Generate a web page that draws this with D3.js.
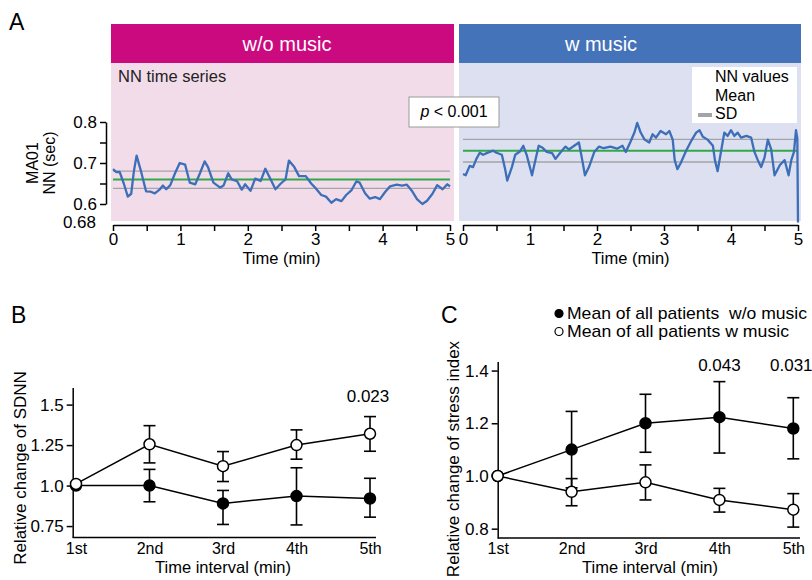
<!DOCTYPE html>
<html>
<head>
<meta charset="utf-8">
<script src="https://cdn.jsdelivr.net/npm/d3@7"></script>
<style>
body { margin: 0; background: #fff; }
svg { font-family: "Liberation Sans", Arial, sans-serif; }
</style>
</head>
<body>
<svg id="chart" width="812" height="580"></svg>
<script>
// panel A: NN time series [minute, seconds]
var nnWithoutMusic = [
  [0,0.685],[0.05,0.678],[0.1,0.678],[0.16,0.65],[0.22,0.618],[0.27,0.625],[0.31,0.68],[0.35,0.718],
  [0.42,0.677],[0.49,0.631],[0.56,0.63],[0.62,0.626],[0.69,0.635],[0.74,0.645],[0.79,0.636],[0.85,0.646],
  [0.92,0.675],[0.99,0.70],[1.07,0.696],[1.14,0.652],[1.22,0.648],[1.29,0.675],[1.36,0.704],[1.41,0.69],
  [1.49,0.652],[1.59,0.64],[1.64,0.645],[1.71,0.675],[1.76,0.66],[1.84,0.656],[1.91,0.635],[1.96,0.648],
  [2.04,0.632],[2.11,0.662],[2.19,0.656],[2.26,0.686],[2.34,0.66],[2.41,0.636],[2.49,0.65],[2.56,0.66],
  [2.61,0.706],[2.69,0.69],[2.76,0.668],[2.86,0.668],[2.94,0.65],[3.01,0.638],[3.09,0.622],[3.16,0.618],
  [3.24,0.603],[3.31,0.612],[3.39,0.607],[3.46,0.622],[3.54,0.634],[3.61,0.655],[3.66,0.652],[3.74,0.626],
  [3.81,0.613],[3.89,0.617],[3.96,0.612],[4.04,0.63],[4.11,0.643],[4.21,0.647],[4.29,0.645],[4.36,0.647],
  [4.44,0.631],[4.51,0.612],[4.59,0.60],[4.66,0.608],[4.74,0.625],[4.81,0.646],[4.89,0.636],[4.96,0.648],
  [5,0.643]
];
var nnWithMusic = [
  [0,0.673],[0.04,0.670],[0.1,0.693],[0.15,0.69],[0.2,0.71],[0.25,0.725],[0.3,0.72],[0.38,0.726],
  [0.45,0.73],[0.5,0.725],[0.58,0.72],[0.63,0.684],[0.66,0.657],[0.73,0.69],[0.78,0.72],[0.85,0.728],
  [0.9,0.742],[0.95,0.72],[1.03,0.67],[1.08,0.707],[1.13,0.742],[1.18,0.738],[1.25,0.727],[1.33,0.724],
  [1.38,0.71],[1.46,0.727],[1.53,0.74],[1.58,0.733],[1.66,0.742],[1.73,0.75],[1.78,0.707],[1.82,0.67],
  [1.88,0.69],[1.96,0.727],[2.03,0.74],[2.1,0.736],[2.2,0.74],[2.3,0.735],[2.38,0.742],[2.43,0.727],
  [2.5,0.752],[2.56,0.775],[2.6,0.798],[2.65,0.775],[2.71,0.757],[2.78,0.75],[2.83,0.77],[2.88,0.762],
  [2.95,0.778],[3.03,0.77],[3.08,0.778],[3.13,0.757],[3.16,0.707],[3.2,0.685],[3.25,0.70],[3.33,0.73],
  [3.4,0.752],[3.48,0.774],[3.53,0.78],[3.58,0.764],[3.65,0.757],[3.73,0.742],[3.76,0.707],[3.8,0.68],
  [3.85,0.727],[3.9,0.774],[3.95,0.766],[4.0,0.78],[4.05,0.766],[4.1,0.774],[4.15,0.762],[4.23,0.766],
  [4.3,0.762],[4.35,0.727],[4.4,0.707],[4.45,0.69],[4.5,0.713],[4.55,0.757],[4.6,0.733],[4.65,0.67],
  [4.73,0.695],[4.8,0.707],[4.86,0.67],[4.9,0.707],[4.94,0.727],[4.97,0.78],[4.99,0.76],[5,0.555]
];
var meanWithout = 0.66, sdWithout = [0.638, 0.68];
var meanWith = 0.73, sdWith = [0.7025, 0.7575];
var minuteTicks = [0, 0.5, 1, 1.5, 2, 2.5, 3, 3.5, 4, 4.5, 5];
var nnTicks = [0.6, 0.65, 0.7, 0.75, 0.8];

// panels B and C
var intervals = ["1st", "2nd", "3rd", "4th", "5th"];
var sdnnWithout   = [1.0, 1.0, 0.89, 0.935, 0.92];
var sdnnWithoutLo = [1.0, 0.90, 0.76, 0.757, 0.805];
var sdnnWithoutHi = [1.0, 1.10, 0.97, 1.11, 1.045];
var sdnnWith      = [1.01, 1.255, 1.12, 1.25, 1.32];
var sdnnWithLo    = [1.01, 1.14, 1.025, 1.163, 1.212];
var sdnnWithHi    = [1.01, 1.37, 1.21, 1.344, 1.426];
var sdnnTicks = [0.75, 1.0, 1.25, 1.5];
var sdnnPvalues = ["", "", "", "", "0.023"];

var stressWithout   = [1.0, 1.1, 1.2, 1.223, 1.18];
var stressWithoutLo = [1.0, 0.955, 1.09, 1.087, 1.065];
var stressWithoutHi = [1.0, 1.245, 1.31, 1.358, 1.297];
var stressWith      = [1.0, 0.94, 0.976, 0.909, 0.872];
var stressWithLo    = [1.0, 0.887, 0.909, 0.863, 0.806];
var stressWithHi    = [1.0, 0.99, 1.042, 0.953, 0.933];
var stressTicks = [0.8, 1.0, 1.2, 1.4];
var stressPvalues = ["", "", "", "0.043", "0.031"];

var svg = d3.select("#chart");

function panelLetter(txt, x, y) {
  svg.append("text").attr("x", x).attr("y", y).attr("font-size", 23).text(txt);
}

function styleAxis(g, fs) {
  g.selectAll("path, line").attr("stroke", "#000").attr("stroke-width", 1.5);
  g.selectAll("text").attr("font-size", fs).attr("fill", "#000")
    .attr("font-family", "Liberation Sans, Arial, sans-serif");
}

// ---------- panel A ----------
panelLetter("A", 9, 30);

var yA = d3.scaleLinear().domain([0.6, 0.8]).range([204, 122]);
var xWo = d3.scaleLinear().domain([0, 5]).range([113, 450]);
var xW = d3.scaleLinear().domain([0, 5]).range([463, 798]);

var sides = [
  {x: xWo, x0: 111, x1: 454, head: "#cc0a80", bg: "#f3dcea", title: "w/o music", tx: 287,
   data: nnWithoutMusic, mean: meanWithout, sd: sdWithout},
  {x: xW, x0: 459, x1: 801, head: "#4573b9", bg: "#dde0f0", title: "w music", tx: 601,
   data: nnWithMusic, mean: meanWith, sd: sdWith}
];

sides.forEach(function(s) {
  svg.append("rect").attr("x", s.x0).attr("y", 63).attr("width", s.x1 - s.x0).attr("height", 158)
    .attr("fill", s.bg);
  svg.append("rect").attr("x", s.x0).attr("y", 24).attr("width", s.x1 - s.x0).attr("height", 39)
    .attr("fill", s.head);
  svg.append("text").attr("x", s.tx).attr("y", 51).attr("text-anchor", "middle")
    .attr("font-size", 20).attr("fill", "#fff").text(s.title);

  // SD and mean lines
  s.sd.forEach(function(v) {
    svg.append("line").attr("x1", s.x(0)).attr("x2", s.x(5))
      .attr("y1", yA(v)).attr("y2", yA(v)).attr("stroke", "#a3a3a8").attr("stroke-width", 1.3);
  });
  svg.append("line").attr("x1", s.x(0)).attr("x2", s.x(5))
    .attr("y1", yA(s.mean)).attr("y2", yA(s.mean)).attr("stroke", "#33a84a").attr("stroke-width", 2);

  var line = d3.line().x(function(d) { return s.x(d[0]); }).y(function(d) { return yA(d[1]); });
  svg.append("path").datum(s.data).attr("d", line).attr("fill", "none")
    .attr("stroke", "#3c6fb8").attr("stroke-width", 2.3).attr("stroke-linejoin", "round");

  var ax = svg.append("g").attr("transform", "translate(0,225)")
    .call(d3.axisBottom(s.x).tickValues(minuteTicks).tickSize(6).tickPadding(2).tickSizeOuter(0)
      .tickFormat(function(d) { return d % 1 === 0 ? d : ""; }));
  styleAxis(ax, 17);

  svg.append("text").attr("x", (s.x(0) + s.x(5)) / 2).attr("y", 264).attr("text-anchor", "middle")
    .attr("font-size", 16.5).text("Time (min)");
});

svg.append("text").attr("x", 118).attr("y", 82).attr("font-size", 16.5).attr("fill", "#222")
  .text("NN time series");

var ayA = svg.append("g").attr("transform", "translate(106,0)")
  .call(d3.axisLeft(yA).tickValues(nnTicks).tickSize(6).tickSizeOuter(0)
    .tickFormat(function(d) { return [0.6, 0.7, 0.8].indexOf(d) >= 0 ? d.toFixed(1) : ""; }));
styleAxis(ayA, 17);
svg.append("text").attr("x", 96).attr("y", 228).attr("text-anchor", "end").attr("font-size", 17)
  .text("0.68");

svg.append("text").attr("transform", "translate(38,163) rotate(-90)").attr("text-anchor", "middle")
  .attr("font-size", 16).text("MA01");
svg.append("text").attr("transform", "translate(55,163) rotate(-90)").attr("text-anchor", "middle")
  .attr("font-size", 16).text("NN (sec)");

// p-value box
svg.append("rect").attr("x", 409).attr("y", 97).attr("width", 90).attr("height", 30)
  .attr("fill", "#fff").attr("stroke", "#9a9a9a").attr("stroke-width", 1);
var pt = svg.append("text").attr("x", 454).attr("y", 117).attr("text-anchor", "middle").attr("font-size", 16);
pt.append("tspan").attr("font-style", "italic").text("p");
pt.append("tspan").text(" < 0.001");

// legend of panel A
svg.append("rect").attr("x", 692).attr("y", 67).attr("width", 105).attr("height", 56).attr("fill", "#fff");
svg.append("rect").attr("x", 698).attr("y", 113).attr("width", 14).attr("height", 4).attr("fill", "#a3a3a8");
["NN values", "Mean", "SD"].forEach(function(t, i) {
  svg.append("text").attr("x", 715).attr("y", 82 + i * 18.5).attr("font-size", 16).text(t);
});

// ---------- panels B and C ----------
function intervalPanel(o) {
  var x = d3.scalePoint().domain(intervals).range(o.xr);
  var y = d3.scaleLinear().domain(o.yd).range(o.yr);

  var ay = svg.append("g").attr("transform", "translate(" + o.axisX + ",0)")
    .call(d3.axisLeft(y).tickValues(o.ticks).tickSize(6).tickSizeOuter(0)
      .tickFormat(function(d) { return d === 1 ? "1.0" : String(d); }));
  styleAxis(ay, 17);

  var axx = svg.append("g").attr("transform", "translate(0," + o.yr[0] + ")")
    .call(d3.axisBottom(x).tickSize(0).tickPadding(5));
  axx.select(".domain").remove();
  styleAxis(axx, 16);
  svg.append("line").attr("x1", o.axisX).attr("x2", o.axisEnd).attr("y1", o.yr[0]).attr("y2", o.yr[0])
    .attr("stroke", "#000").attr("stroke-width", 1.5);

  var series = [
    {v: o.without, lo: o.withoutLo, hi: o.withoutHi, fill: "#000"},
    {v: o.with, lo: o.withLo, hi: o.withHi, fill: "#fff"}
  ];
  var line = d3.line().x(function(d, i) { return x(intervals[i]); }).y(function(d) { return y(d); });

  series.forEach(function(s) {
    svg.append("path").datum(s.v).attr("d", line).attr("fill", "none")
      .attr("stroke", "#000").attr("stroke-width", 1.5);
  });
  series.forEach(function(s) {
    var g = svg.append("g");
    intervals.forEach(function(c, i) {
      if (s.lo[i] === s.hi[i]) return;
      var cx = x(c);
      g.append("line").attr("x1", cx).attr("x2", cx).attr("y1", y(s.lo[i])).attr("y2", y(s.hi[i]));
      g.append("line").attr("x1", cx - 6).attr("x2", cx + 6).attr("y1", y(s.lo[i])).attr("y2", y(s.lo[i]));
      g.append("line").attr("x1", cx - 6).attr("x2", cx + 6).attr("y1", y(s.hi[i])).attr("y2", y(s.hi[i]));
    });
    g.selectAll("line").attr("stroke", "#000").attr("stroke-width", 1.6);
  });
  series.forEach(function(s) {
    svg.append("g").selectAll("circle").data(s.v).enter().append("circle")
      .attr("cx", function(d, i) { return x(intervals[i]); })
      .attr("cy", function(d) { return y(d); })
      .attr("r", 5.5).attr("fill", s.fill).attr("stroke", "#000").attr("stroke-width", 1.5);
  });

  svg.append("g").selectAll("text").data(o.pvals).enter().append("text")
    .attr("x", function(d, i) { return x(intervals[i]) + o.pShift[i]; })
    .attr("y", o.pY).attr("text-anchor", "middle").attr("font-size", 17)
    .text(function(d) { return d; });

  svg.append("text").attr("transform", "translate(" + o.labelX + "," + o.labelY + ") rotate(-90)")
    .attr("text-anchor", "middle").attr("font-size", 17).text(o.ylabel);
  svg.append("text").attr("x", o.titleX).attr("y", 573).attr("text-anchor", "middle")
    .attr("font-size", 16.5).text("Time interval (min)");
}

panelLetter("B", 11, 323);
intervalPanel({
  xr: [76, 370], axisX: 72.7, axisEnd: 376,
  yd: [0.68, 1.605], yr: [537.4, 387.6], ticks: sdnnTicks,
  without: sdnnWithout, withoutLo: sdnnWithoutLo, withoutHi: sdnnWithoutHi,
  with: sdnnWith, withLo: sdnnWithLo, withHi: sdnnWithHi,
  pvals: sdnnPvalues, pShift: [0, 0, 0, 0, -2], pY: 402,
  ylabel: "Relative change of SDNN", labelX: 26, labelY: 468, titleX: 223
});

panelLetter("C", 441, 323);
intervalPanel({
  xr: [497.7, 793.3], axisX: 497.7, axisEnd: 800,
  yd: [0.765, 1.434], yr: [537.9, 361.6], ticks: stressTicks,
  without: stressWithout, withoutLo: stressWithoutLo, withoutHi: stressWithoutHi,
  with: stressWith, withLo: stressWithLo, withHi: stressWithHi,
  pvals: stressPvalues, pShift: [0, 0, 0, 0, -2], pY: 371,
  ylabel: "Relative change of stress index", labelX: 459, labelY: 459, titleX: 650
});

// legend of panels B/C
var legendC = [{fill: "#000", label: "Mean of all patients\u00a0\u00a0w/o music", len: 240},
               {fill: "#fff", label: "Mean of all patients w music", len: 222}];
legendC.forEach(function(d, i) {
  svg.append("circle").attr("cx", 559).attr("cy", 313.5 + i * 18).attr("r", 4)
    .attr("fill", d.fill).attr("stroke", "#000").attr("stroke-width", 1.2);
  svg.append("text").attr("x", 567).attr("y", 319 + i * 18).attr("font-size", 17)
    .attr("textLength", d.len).attr("lengthAdjust", "spacingAndGlyphs").text(d.label);
});
</script>
</body>
</html>
